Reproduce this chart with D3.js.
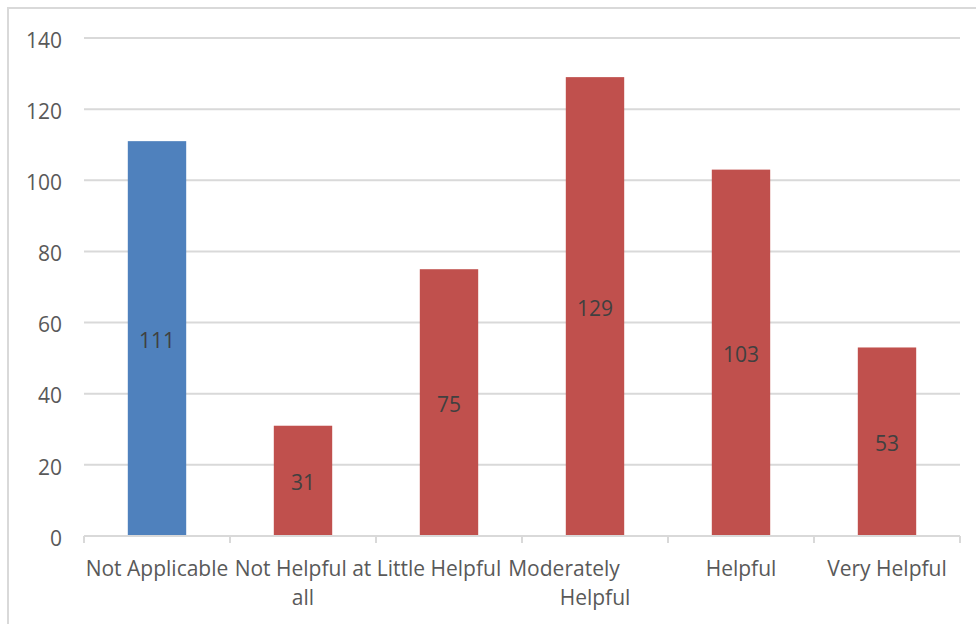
<!DOCTYPE html>
<html>
<head>
<meta charset="utf-8">
<script src="https://cdn.jsdelivr.net/npm/d3@7"></script>
<style>
  html, body { margin: 0; padding: 0; background: #ffffff; }
  svg { display: block; }
</style>
</head>
<body>
<svg id="chart" width="976" height="624"></svg>
<script>
// Category labels, each split into the lines it wraps onto
const categories = ["Not Applicable", "Not Helpful at all", "Little Helpful", "Moderately Helpful", "Helpful", "Very Helpful"];
const categoryLines = [
  ["Not Applicable"],
  ["Not Helpful at", "all"],
  ["Little Helpful"],
  ["Moderately", "Helpful"],
  ["Helpful"],
  ["Very Helpful"]
];
const counts = [111, 31, 75, 129, 103, 53];
const barColors = ["#4f81bd", "#c0504d", "#c0504d", "#c0504d", "#c0504d", "#c0504d"];
const yTicks = [0, 20, 40, 60, 80, 100, 120, 140];

const svg = d3.select("#chart");
const W = 976, H = 624;
const plot = { left: 84, right: 960, top: 38, bottom: 536 };
const font = "'Open Sans', 'Noto Sans', sans-serif";
const fontSize = "21px";

// horizontal nudges (px) of individual wrapped label lines, as laid out in the source chart
const lineNudge = { "Little Helpful": [-10], "Moderately Helpful": [-31, 0] };

// chart frame
svg.append("rect")
  .attr("x", 8).attr("y", 8)
  .attr("width", W + 10).attr("height", H + 10)
  .attr("fill", "#ffffff")
  .attr("stroke", "#d9d9d9")
  .attr("stroke-width", 2);

const x = d3.scaleBand().domain(categories).range([plot.left, plot.right]).padding(0);
const y = d3.scaleLinear().domain([0, 140]).range([plot.bottom, plot.top]);

// horizontal gridlines
svg.append("g")
  .selectAll("line")
  .data(yTicks.filter(d => d > 0))
  .join("line")
  .attr("x1", plot.left).attr("x2", plot.right)
  .attr("y1", d => y(d)).attr("y2", d => y(d))
  .attr("stroke", "#d9d9d9")
  .attr("stroke-width", 2);

// y-axis labels
const yAxis = d3.axisLeft(y).tickValues(yTicks).tickSize(0).tickPadding(22);
const gy = svg.append("g").attr("transform", `translate(${plot.left},0)`).call(yAxis);
gy.select(".domain").remove();
gy.selectAll("text")
  .attr("font-family", font)
  .attr("font-size", fontSize)
  .attr("fill", "#595959")
  .attr("dy", "0.44em");

// bars: gap width 150% of the bar width
const barW = x.step() / 2.5;
svg.append("g")
  .selectAll("rect")
  .data(counts)
  .join("rect")
  .attr("x", (d, i) => x(categories[i]) + x.bandwidth() / 2 - barW / 2)
  .attr("width", barW)
  .attr("y", d => y(d))
  .attr("height", d => y(0) - y(d))
  .attr("fill", (d, i) => barColors[i]);

// value labels centred inside each bar
svg.append("g")
  .selectAll("text")
  .data(counts)
  .join("text")
  .attr("x", (d, i) => x(categories[i]) + x.bandwidth() / 2)
  .attr("y", d => (y(d) + y(0)) / 2)
  .attr("dy", "0.44em")
  .attr("text-anchor", "middle")
  .attr("font-family", font)
  .attr("font-size", fontSize)
  .attr("fill", "#404040")
  .text(d => d);

// x-axis with tick marks at category boundaries
const gx = svg.append("g").attr("transform", `translate(0,${plot.bottom})`);
gx.append("line")
  .attr("x1", plot.left).attr("x2", plot.right)
  .attr("y1", 0).attr("y2", 0)
  .attr("stroke", "#d9d9d9").attr("stroke-width", 2);
const boundaries = categories.map(c => x(c)).concat([plot.right]);
gx.selectAll("line.tick")
  .data(boundaries)
  .join("line")
  .attr("class", "tick")
  .attr("x1", d => d).attr("x2", d => d)
  .attr("y1", 0).attr("y2", 7)
  .attr("stroke", "#d9d9d9").attr("stroke-width", 2);

const labels = gx.selectAll("text.cat")
  .data(categories)
  .join("text")
  .attr("class", "cat")
  .attr("x", d => x(d) + x.bandwidth() / 2)
  .attr("y", 40)
  .attr("text-anchor", "middle")
  .attr("font-family", font)
  .attr("font-size", fontSize)
  .attr("fill", "#595959");

labels.each(function(d, i) {
  const t = d3.select(this);
  const cx = x(d) + x.bandwidth() / 2;
  const nudge = lineNudge[d] || [];
  categoryLines[i].forEach((line, j) => {
    t.append("tspan")
      .attr("x", cx + (nudge[j] || 0))
      .attr("dy", j === 0 ? 0 : 28.5)
      .text(line);
  });
});
</script>
</body>
</html>
